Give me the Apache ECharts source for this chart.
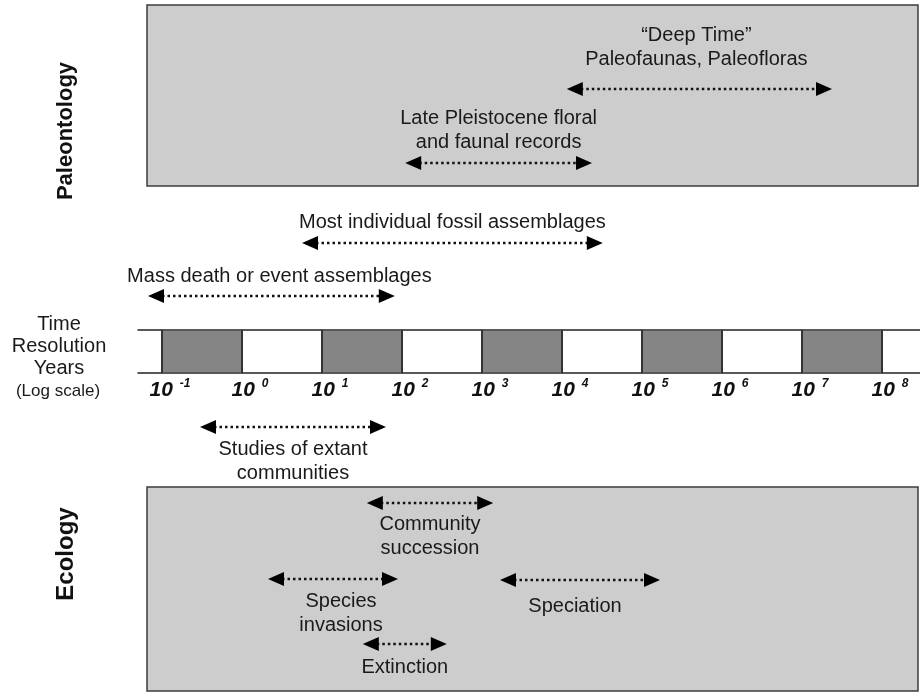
<!DOCTYPE html>
<html>
<head>
<meta charset="utf-8">
<script src="https://cdn.jsdelivr.net/npm/echarts@6/dist/echarts.min.js"></script>
<style>
  html, body { margin: 0; padding: 0; background: #fff; }
  #chart { width: 920px; height: 692px; }
</style>
</head>
<body>
<div id="chart"></div>
<script>
// decades shown on the log axis (exponents of 10)
const decades = [-1, 0, 1, 2, 3, 4, 5, 6, 7, 8];
// shaded decade blocks [from, to]
const shadedFrom = [-1, 1, 3, 5, 7];
const shadedTo = [0, 2, 4, 6, 8];

// time ranges (log10 years) for each process / record
const rangeNames = [
  '\u201cDeep Time\u201d\nPaleofaunas, Paleofloras',
  'Late Pleistocene floral\nand faunal records',
  'Most individual fossil assemblages',
  'Mass death or event assemblages',
  'Studies of extant\ncommunities',
  'Community\nsuccession',
  'Species\ninvasions',
  'Extinction',
  'Speciation'
];
const rangeFrom = [4.06, 2.04, 0.75, -1.175, -0.525, 1.56, 0.325, 1.51, 3.225];
const rangeTo = [7.375, 4.375, 4.51, 1.91, 1.8, 3.14, 1.95, 2.56, 5.225];
// vertical row of each arrow on the diagram
const rangeRow = [89, 163, 243, 296, 427, 503, 579, 644, 580];
const labelSide = ['top', 'top', 'top', 'top', 'bottom', 'bottom', 'bottom', 'bottom', 'bottom'];
const labelGap = [18, 9, 9, 8, 10, 9, 10, 11, 14];
const labelShift = [-3, 0, 0, 8, 0, 0, 8, 0, -5];

const fontFam = '"Liberation Sans", Arial, sans-serif';
const xMin = -1.3, xMax = 8.475;

const chart = echarts.init(document.getElementById('chart'));

chart.setOption({
  animation: false,
  backgroundColor: '#fff',
  grid: [
    { left: 138, right: 0, top: 0, bottom: 0 },
    { left: 138, right: 0, top: 330, height: 43 }
  ],
  xAxis: [
    { gridIndex: 0, type: 'value', min: xMin, max: xMax, show: false },
    {
      gridIndex: 1, type: 'value', min: xMin, max: xMax, position: 'bottom',
      axisLine: { lineStyle: { color: '#222', width: 1.5 } },
      axisTick: { show: false },
      splitLine: { show: false },
      axisLabel: {
        customValues: decades,
        margin: 5,
        formatter: function (v) { return '{b|10}{s|' + v + '}'; },
        rich: {
          b: { fontFamily: fontFam, fontSize: 21, fontWeight: 'bold', fontStyle: 'italic', color: '#111', padding: [0, 0, 0, 16] },
          s: { fontFamily: fontFam, fontSize: 12, fontWeight: 'bold', fontStyle: 'italic', color: '#111', padding: [0, 0, 12, 7] }
        }
      }
    },
    {
      gridIndex: 1, type: 'value', min: xMin, max: xMax, position: 'top',
      axisLine: { lineStyle: { color: '#222', width: 1.5 } },
      axisTick: { show: false }, axisLabel: { show: false }, splitLine: { show: false }
    }
  ],
  yAxis: [
    { gridIndex: 0, type: 'value', min: 0, max: 692, inverse: true, show: false },
    { gridIndex: 1, type: 'value', min: 0, max: 1, show: false }
  ],
  graphic: [
    { type: 'rect', z: -10, shape: { x: 147, y: 5, width: 771, height: 181 },
      style: { fill: '#cdcdcd', stroke: '#3c3c3c', lineWidth: 1.5 } },
    { type: 'rect', z: -10, shape: { x: 147, y: 487, width: 771, height: 204 },
      style: { fill: '#cdcdcd', stroke: '#3c3c3c', lineWidth: 1.5 } },
    { type: 'text', x: 66, y: 131, rotation: Math.PI / 2,
      style: { text: 'Paleontology', font: 'bold 22px ' + fontFam, fill: '#111', align: 'center', verticalAlign: 'middle' } },
    { type: 'text', x: 66, y: 554, rotation: Math.PI / 2,
      style: { text: 'Ecology', font: 'bold 24px ' + fontFam, fill: '#111', align: 'center', verticalAlign: 'middle' } },
    { type: 'text', x: 59, y: 313,
      style: { text: 'Time\nResolution\nYears', font: '20px ' + fontFam, lineHeight: 22, fill: '#1a1a1a', align: 'center', verticalAlign: 'top' } },
    { type: 'text', x: 58, y: 391,
      style: { text: '(Log scale)', font: '17px ' + fontFam, fill: '#1a1a1a', align: 'center', verticalAlign: 'middle' } }
  ],
  series: [
    {
      type: 'custom',
      xAxisIndex: 1, yAxisIndex: 1,
      silent: true,
      data: shadedFrom.map((f, i) => [f, shadedTo[i]]),
      renderItem: function (params, api) {
        const a = api.coord([api.value(0), 1]);
        const b = api.coord([api.value(1), 0]);
        return {
          type: 'group',
          children: [
            { type: 'rect', shape: { x: a[0], y: a[1] + 1, width: b[0] - a[0], height: b[1] - a[1] - 2 }, style: { fill: '#858585' } },
            { type: 'line', shape: { x1: a[0], y1: a[1], x2: a[0], y2: b[1] }, style: { stroke: '#333', lineWidth: 2 } },
            { type: 'line', shape: { x1: b[0], y1: a[1], x2: b[0], y2: b[1] }, style: { stroke: '#333', lineWidth: 2 } }
          ]
        };
      }
    },
    {
      type: 'custom',
      xAxisIndex: 0, yAxisIndex: 0,
      silent: true,
      data: rangeFrom.map((f, i) => [f, rangeTo[i], rangeRow[i]]),
      renderItem: function (params, api) {
        const i = params.dataIndex;
        const p1 = api.coord([api.value(0), api.value(2)]);
        const p2 = api.coord([api.value(1), api.value(2)]);
        const y = p1[1], hl = 16, hh = 7;
        const top = labelSide[i] === 'top';
        return {
          type: 'group',
          children: [
            { type: 'line', shape: { x1: p1[0] + hl - 2, y1: y, x2: p2[0] - hl + 2, y2: y },
              style: { stroke: '#111', lineWidth: 2.5, lineDash: [2.5, 3] } },
            { type: 'polygon', shape: { points: [[p1[0], y], [p1[0] + hl, y - hh], [p1[0] + hl, y + hh]] }, style: { fill: '#000' } },
            { type: 'polygon', shape: { points: [[p2[0], y], [p2[0] - hl, y - hh], [p2[0] - hl, y + hh]] }, style: { fill: '#000' } },
            { type: 'text', x: (p1[0] + p2[0]) / 2 + labelShift[i], y: top ? y - labelGap[i] : y + labelGap[i],
              style: { text: rangeNames[i], font: '20px ' + fontFam, lineHeight: 24, fill: '#1a1a1a',
                align: 'center', verticalAlign: top ? 'bottom' : 'top' } }
          ]
        };
      }
    }
  ]
});
</script>
</body>
</html>
